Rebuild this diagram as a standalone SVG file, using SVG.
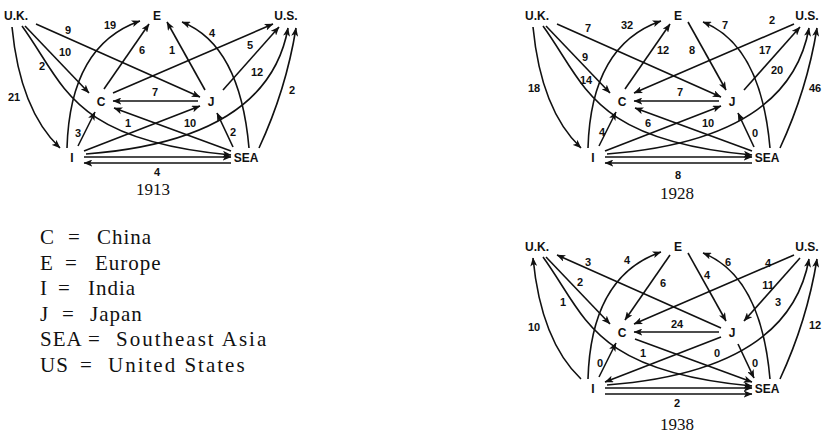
<svg xmlns="http://www.w3.org/2000/svg" width="825" height="437" viewBox="0 0 825 437">
<defs>
<marker id="ah" viewBox="0 0 10 8" refX="9.5" refY="4" markerWidth="9" markerHeight="7" markerUnits="userSpaceOnUse" orient="auto">
<path d="M0,0 L10,4 L0,8 L2.5,4 z" fill="#111"/>
</marker>
<style>
.e{fill:none;stroke:#111;stroke-width:1.6;marker-end:url(#ah)}
.n{font-family:"Liberation Sans",Arial,sans-serif;font-weight:bold;font-size:12px;fill:#111;text-anchor:middle}
.v{font-family:"Liberation Sans",Arial,sans-serif;font-weight:bold;font-size:11px;fill:#111;text-anchor:middle}
.y{font-family:"Liberation Serif","Times New Roman",serif;font-size:17px;fill:#111;text-anchor:middle}
.lg{font-family:"Liberation Serif","Times New Roman",serif;font-size:21px;fill:#111;letter-spacing:1px}
.w{letter-spacing:2px}
</style>
</defs>
<rect width="825" height="437" fill="#fff"/>

<!-- 1913 -->
<g id="d1913">
<g id="d1913-connectors">
<path class="e" d="M12,27 Q20,110 60,148"/>
<path class="e" d="M22,26 C65,85 70,140 231,155"/>
<path class="e" d="M25,26 L89,93"/>
<path class="e" d="M36,24 L200,97"/>
<path class="e" d="M67,148 Q70,45 140,21"/>
<path class="e" d="M104,89 L149,24"/>
<path class="e" d="M205,90 L167,22"/>
<path class="e" d="M249,148 Q240,45 182,22"/>
<path class="e" d="M113,93 L273,24"/>
<path class="e" d="M223,90 L279,27"/>
<path class="e" d="M86,154 Q268,140 288,28"/>
<path class="e" d="M259,148 Q286,90 296,28"/>
<path class="e" d="M198,101 L113,101"/>
<path class="e" d="M78,146 L95,112"/>
<path class="e" d="M231,151 L114,108"/>
<path class="e" d="M84,151 L200,106"/>
<path class="e" d="M233,147 L217,113"/>
<path class="e" d="M84,157 L231,157"/>
<path class="e" d="M231,163 L84,163"/>
<text class="v" x="14" y="101">21</text>
<text class="v" x="42" y="70">2</text>
<text class="v" x="65" y="56">10</text>
<text class="v" x="68" y="34">9</text>
<text class="v" x="110" y="29">19</text>
<text class="v" x="142" y="54">6</text>
<text class="v" x="172" y="54">1</text>
<text class="v" x="212" y="37">4</text>
<text class="v" x="250" y="49">5</text>
<text class="v" x="257" y="76">12</text>
<text class="v" x="292" y="94">2</text>
<text class="v" x="155" y="96">7</text>
<text class="v" x="78" y="137">3</text>
<text class="v" x="128" y="127">1</text>
<text class="v" x="190" y="127">10</text>
<text class="v" x="233" y="136">2</text>
<text class="v" x="157" y="176">4</text>
</g>
<g id="d1913-UK"><text class="n" x="16" y="20">U.K.</text></g>
<g id="d1913-E"><text class="n" x="157" y="20">E</text></g>
<g id="d1913-US"><text class="n" x="286" y="20">U.S.</text></g>
<g id="d1913-C"><text class="n" x="101" y="106">C</text></g>
<g id="d1913-J"><text class="n" x="211" y="106">J</text></g>
<g id="d1913-I"><text class="n" x="72" y="162">I</text></g>
<g id="d1913-SEA"><text class="n" x="246" y="162">SEA</text></g>
<text class="y" x="153" y="195">1913</text>
</g>

<!-- 1928 -->
<g id="d1928" transform="translate(521,0)">
<g id="d1928-connectors">
<path class="e" d="M12,27 Q20,110 60,148"/>
<path class="e" d="M22,26 C65,85 70,140 231,155"/>
<path class="e" d="M25,26 L89,93"/>
<path class="e" d="M36,24 L200,97"/>
<path class="e" d="M67,148 Q70,45 140,21"/>
<path class="e" d="M104,89 L149,24"/>
<path class="e" d="M167,22 L205,90"/>
<path class="e" d="M249,148 Q240,45 182,22"/>
<path class="e" d="M273,24 L113,93"/>
<path class="e" d="M223,90 L279,27"/>
<path class="e" d="M86,154 Q268,140 288,28"/>
<path class="e" d="M259,148 Q286,90 296,28"/>
<path class="e" d="M198,101 L113,101"/>
<path class="e" d="M78,146 L95,112"/>
<path class="e" d="M231,151 L114,108"/>
<path class="e" d="M84,151 L200,106"/>
<path class="e" d="M233,147 L217,113"/>
<path class="e" d="M84,157 L231,157"/>
<path class="e" d="M231,163 L84,163"/>
<text class="v" x="13" y="92">18</text>
<text class="v" x="65" y="84">14</text>
<text class="v" x="64" y="61">9</text>
<text class="v" x="67" y="32">7</text>
<text class="v" x="106" y="29">32</text>
<text class="v" x="142" y="54">12</text>
<text class="v" x="171" y="54">8</text>
<text class="v" x="204" y="29">7</text>
<text class="v" x="251" y="24">2</text>
<text class="v" x="244" y="54">17</text>
<text class="v" x="256" y="74">20</text>
<text class="v" x="294" y="92">46</text>
<text class="v" x="159" y="96">7</text>
<text class="v" x="81" y="136">4</text>
<text class="v" x="127" y="127">6</text>
<text class="v" x="187" y="127">10</text>
<text class="v" x="234" y="137">0</text>
<text class="v" x="157" y="179">8</text>
</g>
<g id="d1928-UK"><text class="n" x="16" y="20">U.K.</text></g>
<g id="d1928-E"><text class="n" x="157" y="20">E</text></g>
<g id="d1928-US"><text class="n" x="286" y="20">U.S.</text></g>
<g id="d1928-C"><text class="n" x="101" y="106">C</text></g>
<g id="d1928-J"><text class="n" x="211" y="106">J</text></g>
<g id="d1928-I"><text class="n" x="72" y="162">I</text></g>
<g id="d1928-SEA"><text class="n" x="246" y="162">SEA</text></g>
<text class="y" x="156" y="199">1928</text>
</g>

<!-- 1938 -->
<g id="d1938" transform="translate(521,231)">
<g id="d1938-connectors">
<path class="e" d="M60,148 Q20,110 12,27"/>
<path class="e" d="M22,26 C65,85 70,140 231,155"/>
<path class="e" d="M25,26 L89,93"/>
<path class="e" d="M200,97 L36,24"/>
<path class="e" d="M67,148 Q70,45 140,21"/>
<path class="e" d="M149,24 L104,89"/>
<path class="e" d="M167,22 L205,90"/>
<path class="e" d="M249,148 Q240,45 182,22"/>
<path class="e" d="M273,24 L113,93"/>
<path class="e" d="M279,27 L223,90"/>
<path class="e" d="M86,154 Q268,140 288,28"/>
<path class="e" d="M259,148 Q286,90 296,28"/>
<path class="e" d="M198,101 L113,101"/>
<path class="e" d="M78,146 L95,112"/>
<path class="e" d="M114,108 L231,151"/>
<path class="e" d="M200,106 L84,151"/>
<path class="e" d="M217,113 L233,147"/>
<path class="e" d="M84,157 L231,157"/>
<path class="e" d="M84,163 L231,163"/>
<text class="v" x="13" y="100">10</text>
<text class="v" x="42" y="75">1</text>
<text class="v" x="59" y="55">2</text>
<text class="v" x="67" y="35">3</text>
<text class="v" x="106" y="33">4</text>
<text class="v" x="142" y="56">6</text>
<text class="v" x="186" y="48">4</text>
<text class="v" x="207" y="35">6</text>
<text class="v" x="247" y="36">4</text>
<text class="v" x="247" y="58">11</text>
<text class="v" x="257" y="75">3</text>
<text class="v" x="294" y="98">12</text>
<text class="v" x="156" y="97">24</text>
<text class="v" x="79" y="136">0</text>
<text class="v" x="122" y="126">1</text>
<text class="v" x="196" y="126">0</text>
<text class="v" x="234" y="136">0</text>
<text class="v" x="156" y="176">2</text>
</g>
<g id="d1938-UK"><text class="n" x="16" y="20">U.K.</text></g>
<g id="d1938-E"><text class="n" x="157" y="20">E</text></g>
<g id="d1938-US"><text class="n" x="286" y="20">U.S.</text></g>
<g id="d1938-C"><text class="n" x="101" y="106">C</text></g>
<g id="d1938-J"><text class="n" x="211" y="106">J</text></g>
<g id="d1938-I"><text class="n" x="72" y="162">I</text></g>
<g id="d1938-SEA"><text class="n" x="246" y="162">SEA</text></g>
<text class="y" x="156" y="199">1938</text>
</g>

<!-- legend -->
<g id="legend" class="lg">
<text x="40" y="244">C<tspan x="68">=</tspan><tspan x="97">China</tspan></text>
<text x="40" y="270">E<tspan x="65">=</tspan><tspan x="95">Europe</tspan></text>
<text x="40" y="295">I<tspan x="58">=</tspan><tspan x="88">India</tspan></text>
<text x="40" y="321">J<tspan x="62">=</tspan><tspan x="90">Japan</tspan></text>
<text x="40" y="346">SEA<tspan x="88">=</tspan><tspan x="116" class="w">Southeast Asia</tspan></text>
<text x="40" y="372">US<tspan x="80">=</tspan><tspan x="108" class="w">United States</tspan></text>
</g>
</svg>
